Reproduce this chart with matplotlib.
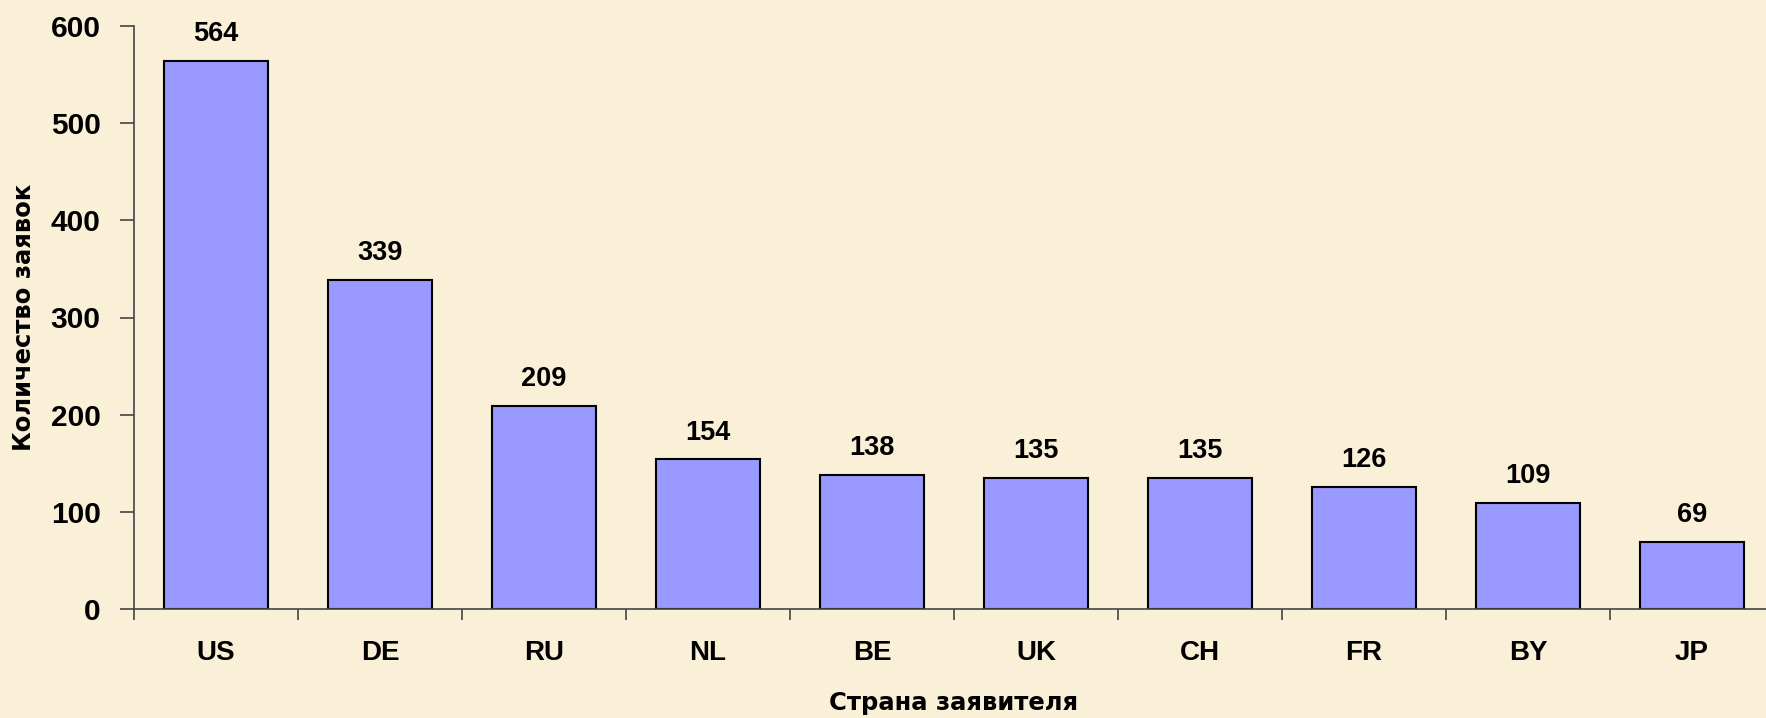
import matplotlib.pyplot as plt

countries = ["US", "DE", "RU", "NL", "BE", "UK", "CH", "FR", "BY", "JP"]
applications = [564, 339, 209, 154, 138, 135, 135, 126, 109, 69]

plt.rcParams["font.family"] = ["Liberation Sans", "DejaVu Sans"]
plt.rcParams["font.weight"] = "bold"

bg = "#FAF0D8"
fig = plt.figure(figsize=(17.66, 7.18), dpi=100, facecolor=bg)
ax = fig.add_axes([134 / 1766, 1 - 609 / 718, 1640 / 1766, (609 - 26) / 718])
ax.set_facecolor(bg)

x = range(len(countries))
bars = ax.bar(x, applications, width=0.63, color="#9999FF",
              edgecolor="black", linewidth=1.5, zorder=3)

for b, v in zip(bars, applications):
    ax.text(b.get_x() + b.get_width() / 2, v + 14, str(v),
            ha="center", va="bottom", fontsize=19.5, fontweight="bold")

ax.set_xlim(-0.5, len(countries) - 0.5)
ax.set_ylim(0, 600)
ax.set_yticks(range(0, 601, 100))
ax.tick_params(axis="y", labelsize=21.5, length=10, width=1.2, color="#444444", pad=14)

ax.set_xticks(x)
ax.set_xticklabels(countries)
ax.set_xticks([i - 0.5 for i in range(len(countries) + 1)], minor=True)
ax.tick_params(axis="x", which="major", length=0, labelsize=20, pad=22)
ax.tick_params(axis="x", which="minor", length=8, width=1.2, color="#444444", direction="out")

for s in ["top", "right"]:
    ax.spines[s].set_visible(False)
for s in ["left", "bottom"]:
    ax.spines[s].set_color("#444444")
    ax.spines[s].set_linewidth(1.2)
    ax.spines[s].set_zorder(4)

ax.set_xlabel("Страна заявителя", fontsize=17.5, fontweight="bold",
              family="DejaVu Sans", labelpad=18)
ax.set_ylabel("Количество заявок", fontsize=17.5, fontweight="bold",
              family="DejaVu Sans")
ax.yaxis.set_label_coords(-0.060, 0.50)

fig.savefig("out.png", dpi=100, facecolor=bg)
